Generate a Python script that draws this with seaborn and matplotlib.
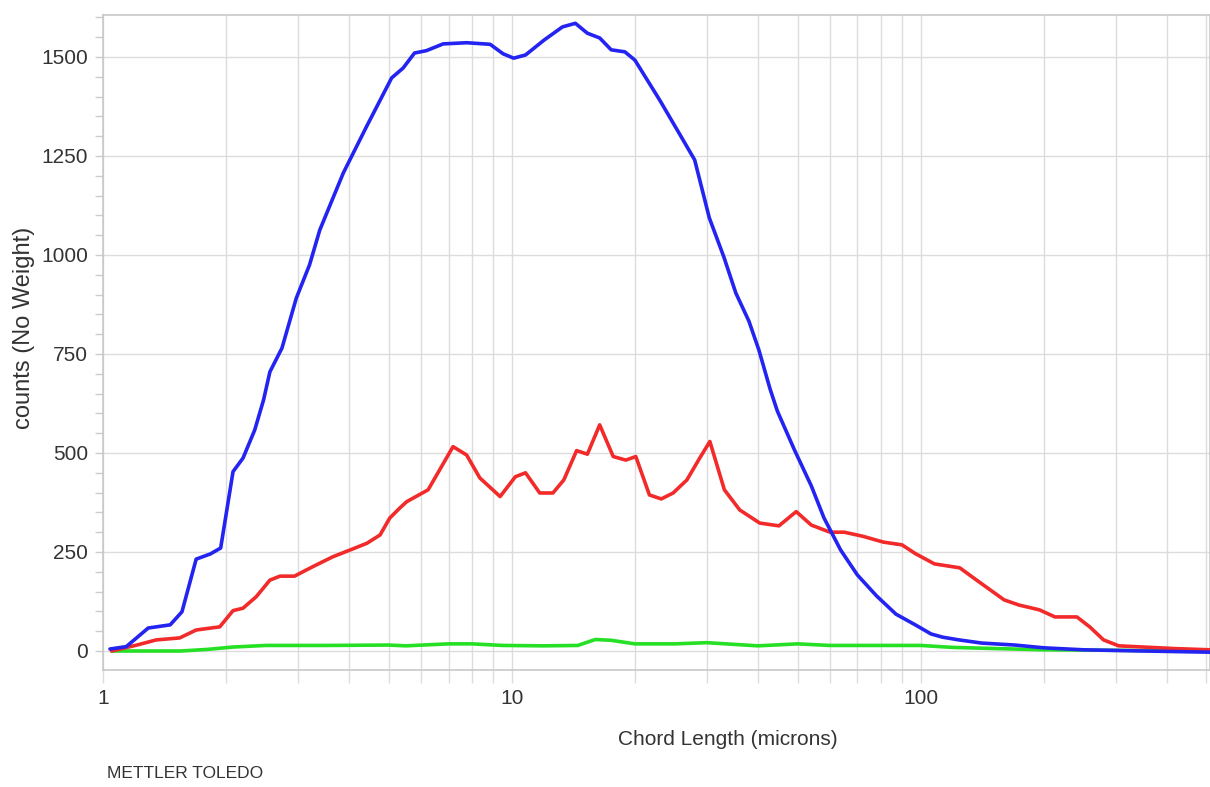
import matplotlib
matplotlib.use("Agg")
import matplotlib.pyplot as plt
import matplotlib.ticker as mticker
from matplotlib import font_manager
import seaborn as sns
import pandas as pd

# ---- data ----
blue_x = [1.04, 1.14, 1.29, 1.46, 1.56, 1.69, 1.83, 1.94, 2.08, 2.20, 2.35, 2.47, 2.56, 2.74, 2.97,
          3.2, 3.39, 3.87, 4.41, 5.08, 5.42, 5.78, 6.18, 6.79, 7.75, 8.85, 9.52, 10.1, 10.8, 12.0,
          13.3, 14.3, 15.3, 16.4, 17.5, 18.9, 20.0, 23.0, 25.7, 28.0, 30.4, 33.0, 35.3, 38.0, 40.2,
          42.8, 44.6, 49.1, 54, 58, 63.7, 70, 78, 87, 97, 106, 113, 124, 141, 170, 200, 250, 350, 510]
blue_y = [5, 11, 58, 66, 99, 232, 245, 260, 453, 487, 558, 634, 705, 765, 891,
          975, 1063, 1207, 1324, 1447, 1472, 1510, 1516, 1533, 1536, 1532, 1508, 1497, 1505, 1543,
          1576, 1585, 1560, 1548, 1518, 1513, 1492, 1391, 1306, 1240, 1094, 995, 904, 833, 760,
          662, 606, 508, 417, 336, 255, 192, 139, 93, 66, 43, 35, 28, 20, 15, 8, 3, 0, -3]

red_x = [1.05, 1.21, 1.35, 1.54, 1.69, 1.93, 2.08, 2.20, 2.37, 2.56, 2.71, 2.94, 3.26, 3.65, 4.02,
         4.42, 4.76, 5.03, 5.32, 5.53, 6.24, 7.18, 7.75, 8.35, 9.36, 10.2, 10.8, 11.7, 12.6, 13.4,
         14.4, 15.3, 16.4, 17.7, 19.0, 20.1, 21.7, 23.2, 24.8, 26.8, 28.8, 30.5, 33.1, 36.1, 40.4,
         45.0, 49.6, 54, 60, 65, 72, 81, 90, 97, 108, 124.6, 137, 160, 174, 195, 213,
         241, 259, 280, 305, 350, 420, 510]
red_y = [0, 15, 28, 33, 53, 61, 102, 108, 137, 179, 189, 189, 213, 238, 255,
         272, 293, 336, 361, 377, 407, 516, 495, 437, 390, 440, 450, 399, 399, 432,
         506, 497, 571, 491, 482, 491, 394, 384, 399, 432, 487, 529, 407, 356, 323,
         316, 352, 318, 300, 300, 290, 275, 268, 246, 220, 210, 179, 129, 116, 104, 86,
         86, 61, 28, 13, 10, 6, 3]

green_x = [1.05, 1.55, 1.8, 2.08, 2.5, 3.5, 5.0, 5.5, 7.0, 8.0, 9.5, 12.0, 14.5, 16.0, 17.5,
           20.0, 25.0, 30.0, 40.0, 50.0, 60.0, 100, 120, 200, 510]
green_y = [0, 0, 4, 10, 14, 14, 15, 13, 18, 18, 14, 13, 14, 29, 27,
           18, 18, 21, 13, 18, 14, 14, 9, 3, 0]

x_ticks = [1, 10, 100]
x_ticklabels = ["1", "10", "100"]
y_ticks = [0, 250, 500, 750, 1000, 1250, 1500]

# ---- figure ----
sns.set_theme(style="white")
plt.rcParams['font.family'] = ['Liberation Sans', 'DejaVu Sans']

installed = {f.name for f in font_manager.fontManager.ttflist}
tick_family = "Liberation Sans Narrow" if "Liberation Sans Narrow" in installed else "Liberation Sans"
tick_size = 17 if tick_family == "Liberation Sans Narrow" else 15

fig = plt.figure(figsize=(12.1, 7.87), dpi=100)
ax = fig.add_axes([103 / 1210, 1 - 670 / 787, 1 - 103 / 1210, (670 - 15) / 787])

df = pd.concat([
    pd.DataFrame({"x": blue_x, "y": blue_y, "s": "blue"}),
    pd.DataFrame({"x": red_x, "y": red_y, "s": "red"}),
    pd.DataFrame({"x": green_x, "y": green_y, "s": "green"}),
])
palette = {"blue": "#2323f2", "red": "#f22a2a", "green": "#25e025"}
for name in ["green", "red", "blue"]:
    sns.lineplot(data=df[df.s == name], x="x", y="y", color=palette[name],
                 linewidth=2.6, ax=ax, legend=False, sort=False,
                 solid_joinstyle="round", solid_capstyle="round",
                 zorder=3 if name != "green" else 2.5)

ax.set_xscale("log")
ax.set_xlim(1, 510)
ax.set_ylim(-48, 1606)

ax.xaxis.set_major_locator(mticker.FixedLocator(x_ticks))
ax.xaxis.set_major_formatter(mticker.FixedFormatter(x_ticklabels))
ax.xaxis.set_minor_locator(mticker.LogLocator(base=10, subs=range(2, 10), numticks=20))
ax.xaxis.set_minor_formatter(mticker.NullFormatter())
ax.yaxis.set_major_locator(mticker.FixedLocator(y_ticks))
ax.yaxis.set_minor_locator(mticker.MultipleLocator(50))

gridc = "#dcdcdc"
ax.grid(True, which="major", axis="both", color=gridc, linewidth=1.0)
ax.grid(True, which="minor", axis="x", color=gridc, linewidth=1.0)
ax.tick_params(axis="x", which="both", length=9.4, width=1.0, color=gridc, direction="out",
               pad=4, bottom=True)
ax.tick_params(axis="y", which="both", length=5.8, width=1.0, color="#cccccc", direction="out",
               pad=5, left=True)
for lab in ax.get_xticklabels() + ax.get_yticklabels():
    lab.set_family([tick_family, "DejaVu Sans"])
    lab.set_fontsize(tick_size)
    lab.set_color("#333333")
for sp in ax.spines.values():
    sp.set_color("#c8c8c8")
    sp.set_linewidth(1.2)

ax.set_xlabel("Chord Length (microns)", fontsize=15, color="#333333")
ax.xaxis.set_label_coords((728 - 103) / 1107, -0.091)
ax.set_ylabel("counts (No Weight)", fontsize=17, color="#333333")
ax.yaxis.label.set_va("center")
ax.yaxis.set_label_coords((24 - 103) / 1107, 0.523)

fig.text(107 / 1210, 1 - 774 / 787, "METTLER TOLEDO", fontsize=12.5, color="#333333",
         ha="left", va="center")

fig.savefig("out.png", dpi=100)
